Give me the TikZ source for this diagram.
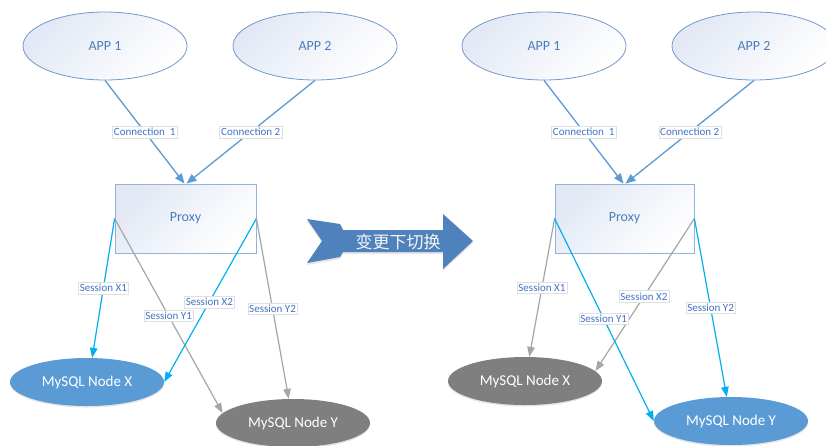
\documentclass[tikz,border=0pt]{standalone}
\usepackage{fontspec}
\setmainfont{Carlito}
\newfontfamily\cjk{Noto Sans CJK SC}
\usetikzlibrary{shapes.geometric,arrows.meta,shadows}
\definecolor{appfill}{HTML}{E2E8F4}
\definecolor{appborder}{HTML}{7299CC}
\definecolor{apptext}{HTML}{4A7EBB}
\definecolor{conncol}{HTML}{5B9BD5}
\definecolor{sblue}{HTML}{00B0F0}
\definecolor{sgray}{HTML}{A6A6A6}
\definecolor{nodeblue}{HTML}{5B9BD5}
\definecolor{nodegray}{HTML}{7F7F7F}
\definecolor{lbltext}{HTML}{4472C4}
\definecolor{bigarrow}{HTML}{4F81BD}
\begin{document}
\begin{tikzpicture}[x=1pt,y=-1pt,
  app/.style={ellipse, draw=appborder, line width=0.8pt, top color=appfill, bottom color=white, shading angle=45,
    minimum width=164pt, minimum height=68pt, inner sep=0pt, text=apptext, font=\fontsize{14}{16}\selectfont},
  proxybox/.style={rectangle, draw=appborder!75, line width=0.8pt, top color=appfill, bottom color=white, shading angle=45,
    minimum width=141pt, minimum height=69pt, inner sep=0pt, text=apptext, font=\fontsize{14}{16}\selectfont},
  db/.style={ellipse, draw=none, minimum width=154pt, minimum height=48pt, inner sep=0pt, text=white,
    font=\fontsize{15}{17}\selectfont, drop shadow={shadow xshift=0pt, shadow yshift=-1.5pt, opacity=0.2}},
  lbl/.style={rectangle, fill=white, draw=gray!25, line width=0.4pt, inner xsep=1.5pt, inner ysep=2pt,
    text=lbltext, font=\fontsize{11}{12}\selectfont},
  conn/.style={draw=conncol, line width=1.3pt, -{Triangle[length=10pt,width=8pt]}},
  sb/.style={draw=sblue, line width=1.2pt, -{Triangle[length=10pt,width=7.5pt]}},
  sg/.style={draw=sgray, line width=1.2pt, -{Triangle[length=10pt,width=7.5pt]}}
]
\clip (0,0) rectangle (826,445);
\fill[white] (0,0) rectangle (826,445);

% ---------- left diagram ----------
\node[app] (app1L) at (105,46) {APP 1};
\node[app] (app2L) at (315,46) {APP 2};
\node[proxybox] (proxyL) at (185.5,218.5) {Proxy};
\node[db, fill=nodeblue] (nxL) at (87,382) {MySQL Node X};
\node[db, fill=nodegray] (nyL) at (293,423) {MySQL Node Y};

\draw[conn] (app1L.south) -- node[lbl, pos=0.5] (c1L) {Connection\kern2.5pt\ 1} ([xshift=-1pt]proxyL.north);
\draw[conn] (app2L.south) -- node[lbl, pos=0.5] (c2L) {Connection 2} ([xshift=1pt]proxyL.north);

\draw[sg] (proxyL.west) -- node[lbl, pos=0.5] (y1L) {Session Y1} (nyL.172);
\draw[sb] (proxyL.west) -- node[lbl, pos=0.5] (x1L) {Session X1} (nxL.78);
\draw[sb] (proxyL.east) -- node[lbl, pos=0.51] (x2L) {Session X2} (nxL.east);
\draw[sg] (proxyL.east) -- node[lbl, pos=0.5] (y2L) {Session Y2} (nyL.100);

% ---------- big arrow ----------
\fill[bigarrow, drop shadow={shadow xshift=0pt, shadow yshift=-2pt, opacity=0.2}]
  (307,219) -- (340,224) -- (343,230) -- (443,230) -- (443,214) -- (473,241)
  -- (443,269) -- (443,252) -- (343,252) -- (340,257) -- (307,263) -- (322,241) -- cycle;
\node[text=white!92!gray, font=\cjk\fontsize{17}{19}\selectfont] (switch) at (398,242) {变更下切换};

% ---------- right diagram ----------
\node[app] (app1R) at (544,46) {APP 1};
\node[app] (app2R) at (754,46) {APP 2};
\node[proxybox, minimum width=139pt] (proxyR) at (624.5,218.5) {Proxy};
\node[db, fill=nodegray] (nxR) at (525,381) {MySQL Node X};
\node[db, fill=nodeblue] (nyR) at (731,421) {MySQL Node Y};

\draw[conn] (app1R.south) -- node[lbl, pos=0.5] (c1R) {Connection\kern2.5pt\ 1} ([xshift=-1pt]proxyR.north);
\draw[conn] (app2R.south) -- node[lbl, pos=0.5] (c2R) {Connection 2} ([xshift=1pt]proxyR.north);

\draw[sg] (proxyR.west) -- node[lbl, pos=0.5] (x1R) {Session X1} (nxR.80);
\draw[sg] (proxyR.east) -- node[lbl, pos=0.51] (x2R) {Session X2} (nxR.8);
\draw[sb] (proxyR.west) -- node[lbl, pos=0.495] (y1R) {Session Y1} (nyR.west);
\draw[sb] (proxyR.east) -- node[lbl, pos=0.5] (y2R) {Session Y2} (nyR.100);
\end{tikzpicture}
\end{document}
